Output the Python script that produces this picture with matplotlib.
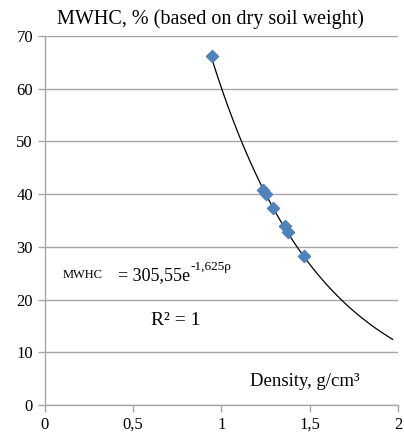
import numpy as np
import matplotlib.pyplot as plt

density = [0.946, 1.236, 1.25, 1.29, 1.36, 1.378, 1.47]
mwhc = [66.2, 40.8, 40.0, 37.3, 33.9, 32.8, 28.2]
a, b = 305.55, -1.625

plt.rcParams['font.family'] = ['Liberation Serif', 'DejaVu Serif']

fig = plt.figure(figsize=(4.04, 4.34), dpi=100)
ax = fig.add_axes([0.111, 0.067, 0.874, 0.85])

xs = np.linspace(min(density), 1.97, 200)
ax.plot(xs, a * np.exp(b * xs), color='black', lw=0.9, zorder=2)
ax.scatter(density, mwhc, marker='D', s=38, color='#4F81BD', edgecolors='#4F81BD', zorder=3)

ax.set_xlim(0, 2)
ax.set_ylim(0, 70)
ax.set_xticks([0, 0.5, 1, 1.5, 2])
ax.set_xticklabels(['0', '0,5', '1', '1,5', '2'])
ax.set_yticks(range(0, 71, 10))
ax.grid(axis='y', color='#A6A6A6', lw=1)
ax.set_axisbelow(True)
for s in ['top', 'right']:
    ax.spines[s].set_visible(False)
for s in ['left', 'bottom']:
    ax.spines[s].set_color('#A6A6A6')
    ax.spines[s].set_linewidth(1)
ax.tick_params(axis='both', colors='#A6A6A6', labelcolor='black', labelsize=12, length=5, width=1)

fig.text(0.14, 0.957, 'MWHC, % (based on dry soil weight)', fontsize=14.5, va='center')
ax.text(0.10, 24.6, 'MWHC', fontsize=9, va='center')
eq = ax.text(0.414, 24.6, '= 305,55e', fontsize=13, va='center')
ax.annotate('-1,625\u03c1', xy=(1, 0.62), xycoords=eq, fontsize=9.5, va='bottom', ha='left')
ax.text(0.74, 16.1, 'R\u00b2 = 1', fontsize=14, va='center', ha='center')
ax.text(1.16, 4.5, 'Density, g/cm\u00b3', fontsize=13.5, va='center')

fig.savefig('out.png', dpi=100)
